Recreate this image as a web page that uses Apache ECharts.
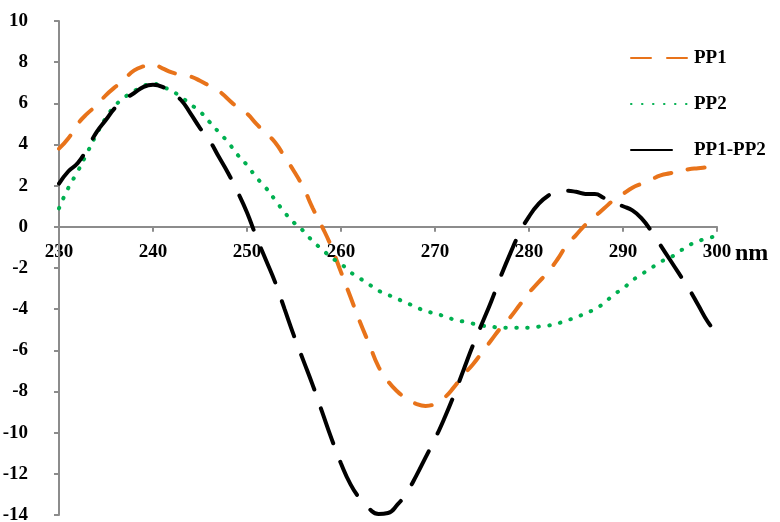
<!DOCTYPE html>
<html><head><meta charset="utf-8">
<script src="https://cdn.jsdelivr.net/npm/echarts@6/dist/echarts.min.js"></script>
<style>html,body{margin:0;padding:0;background:#fff}#c{width:780px;height:522px}</style>
</head><body><div id="c"></div>
<script>
const wavelengths = [230,231,232,233,234,235,236,237,238,239,240,241,242,243,244,245,246,247,248,249,250,251,252,253,254,255,256,257,258,259,260,261,262,263,264,265,266,267,268,269,270,271,272,273,274,275,276,277,278,279,280,281,282,283,284,285,286,287,288,289,290,291,292,293,294,295,296,297,298,299,300];
const pp1 = [3.8,4.3,5.0,5.5,5.9,6.4,6.8,7.2,7.6,7.8,7.9,7.7,7.5,7.4,7.3,7.1,6.85,6.6,6.2,5.8,5.5,5.0,4.55,4.1,3.4,2.7,1.9,0.9,0.0,-1.0,-2.2,-3.4,-4.6,-5.7,-6.8,-7.5,-8.0,-8.35,-8.6,-8.7,-8.6,-8.3,-7.8,-7.2,-6.7,-6.1,-5.5,-4.9,-4.4,-3.8,-3.2,-2.7,-2.2,-1.6,-0.9,-0.4,0.1,0.5,0.9,1.3,1.6,1.9,2.1,2.3,2.5,2.6,2.7,2.8,2.85,2.9,2.95];
const pp2 = [0.9,1.9,2.7,3.6,4.5,5.3,5.9,6.3,6.6,6.85,6.95,6.8,6.6,6.3,5.95,5.6,5.1,4.6,4.1,3.5,3.0,2.4,1.9,1.3,0.7,0.2,-0.2,-0.7,-1.1,-1.5,-1.8,-2.2,-2.5,-2.8,-3.1,-3.3,-3.5,-3.7,-3.9,-4.1,-4.2,-4.35,-4.5,-4.6,-4.7,-4.8,-4.85,-4.9,-4.9,-4.9,-4.9,-4.85,-4.8,-4.7,-4.55,-4.4,-4.2,-4.0,-3.7,-3.3,-3.0,-2.6,-2.3,-2.0,-1.7,-1.5,-1.2,-0.9,-0.7,-0.55,-0.45];
const diff = [2.1,2.7,3.1,3.8,4.6,5.2,5.8,6.2,6.5,6.8,6.9,6.8,6.5,6.15,5.5,4.8,4.2,3.4,2.6,1.7,0.7,-0.5,-1.6,-2.7,-4.0,-5.3,-6.5,-7.7,-9.0,-10.3,-11.5,-12.5,-13.2,-13.7,-13.95,-13.9,-13.5,-12.9,-12.1,-11.2,-10.3,-9.3,-8.2,-7.0,-5.8,-4.7,-3.6,-2.4,-1.3,-0.3,0.5,1.1,1.5,1.7,1.75,1.7,1.6,1.6,1.4,1.2,1.0,0.8,0.4,-0.2,-0.9,-1.6,-2.3,-3.0,-3.8,-4.6,-5.2];
const seriesNames = ['PP1','PP2','PP1-PP2'];
const xMin = 230, xMax = 300, xStep = 10;
const yMin = -14, yMax = 10, yStep = 2;

const font = {fontFamily:'Liberation Serif', fontWeight:'bold', fontSize:19, color:'#000'};
const axisGray = '#8c8c8c';
const colors = ['#E8731A', '#00B050', '#000000'];
function pairs(ys){ return wavelengths.map((x,i)=>[x, ys[i]]); }

// grid geometry (pixels)
const gridTop = 21, gridBottom = 7, H = 522;
const plotH = H - gridTop - gridBottom;
const zeroY = gridTop + plotH * (yMax - 0) / (yMax - yMin);
const labelAxisOffset = -((H - gridBottom) - zeroY);

const axisMarkLine = {
  silent:true, symbol:'none', label:{show:false}, z:1,
  lineStyle:{color:axisGray, width:2, type:'solid'},
  emphasis:{disabled:true},
  data:[{yAxis:0}, {xAxis:xMin}]
};

const chart = echarts.init(document.getElementById('c'));
chart.setOption({
  animation:false,
  backgroundColor:'#fff',
  grid:{left:59, right:63, top:gridTop, bottom:gridBottom, outerBoundsMode:'none'},
  legend:{
    orient:'vertical', left:625, top:43, itemWidth:58, itemHeight:14, itemGap:26,
    itemStyle:{opacity:0},
    textStyle:Object.assign({}, font, {lineHeight:20}),
    data:[
      {name:seriesNames[0], lineStyle:{type:[20,16]}},
      {name:seriesNames[1]},
      {name:seriesNames[2], lineStyle:{type:[41,30]}}
    ]
  },
  xAxis:[{
    type:'value', min:xMin, max:xMax, interval:xStep,
    name:'nm', nameLocation:'end', nameGap:18,
    nameTextStyle:Object.assign({}, font, {fontSize:24, align:'left', verticalAlign:'top', padding:[15,0,0,0]}),
    axisLine:{show:true, onZero:true, lineStyle:{color:axisGray, width:2}},
    axisTick:{show:true, inside:false, length:5, lineStyle:{color:axisGray, width:2}},
    axisLabel:{show:false},
    splitLine:{show:false}
  },{
    type:'value', min:xMin, max:xMax, interval:xStep, position:'bottom', offset:labelAxisOffset,
    axisLine:{show:false}, axisTick:{show:false},
    axisLabel:Object.assign({}, font, {margin:16}),
    splitLine:{show:false}
  }],
  yAxis:{
    type:'value', min:yMin, max:yMax, interval:yStep,
    axisLine:{show:true, onZero:false, lineStyle:{color:axisGray, width:2}},
    axisTick:{show:true, inside:false, length:5, lineStyle:{color:axisGray, width:2}},
    axisLabel:Object.assign({}, font, {margin:16, padding:[0,15,0,0]}),
    splitLine:{show:false}
  },
  series:[
    {name:seriesNames[0], type:'line', smooth:true, symbol:'none', data:pairs(pp1),
     itemStyle:{color:colors[0]},
     lineStyle:{color:colors[0], width:4, type:[17,17], cap:'round'},
     markLine:axisMarkLine},
    {name:seriesNames[1], type:'line', smooth:true, symbol:'none', data:pairs(pp2),
     itemStyle:{color:colors[1]},
     lineStyle:{color:colors[1], width:4, type:[0.5,10.5], cap:'round'}},
    {name:seriesNames[2], type:'line', smooth:true, symbol:'none', data:pairs(diff),
     itemStyle:{color:colors[2]},
     lineStyle:{color:colors[2], width:4, type:[37,20], cap:'round'}}
  ]
});
</script></body></html>
